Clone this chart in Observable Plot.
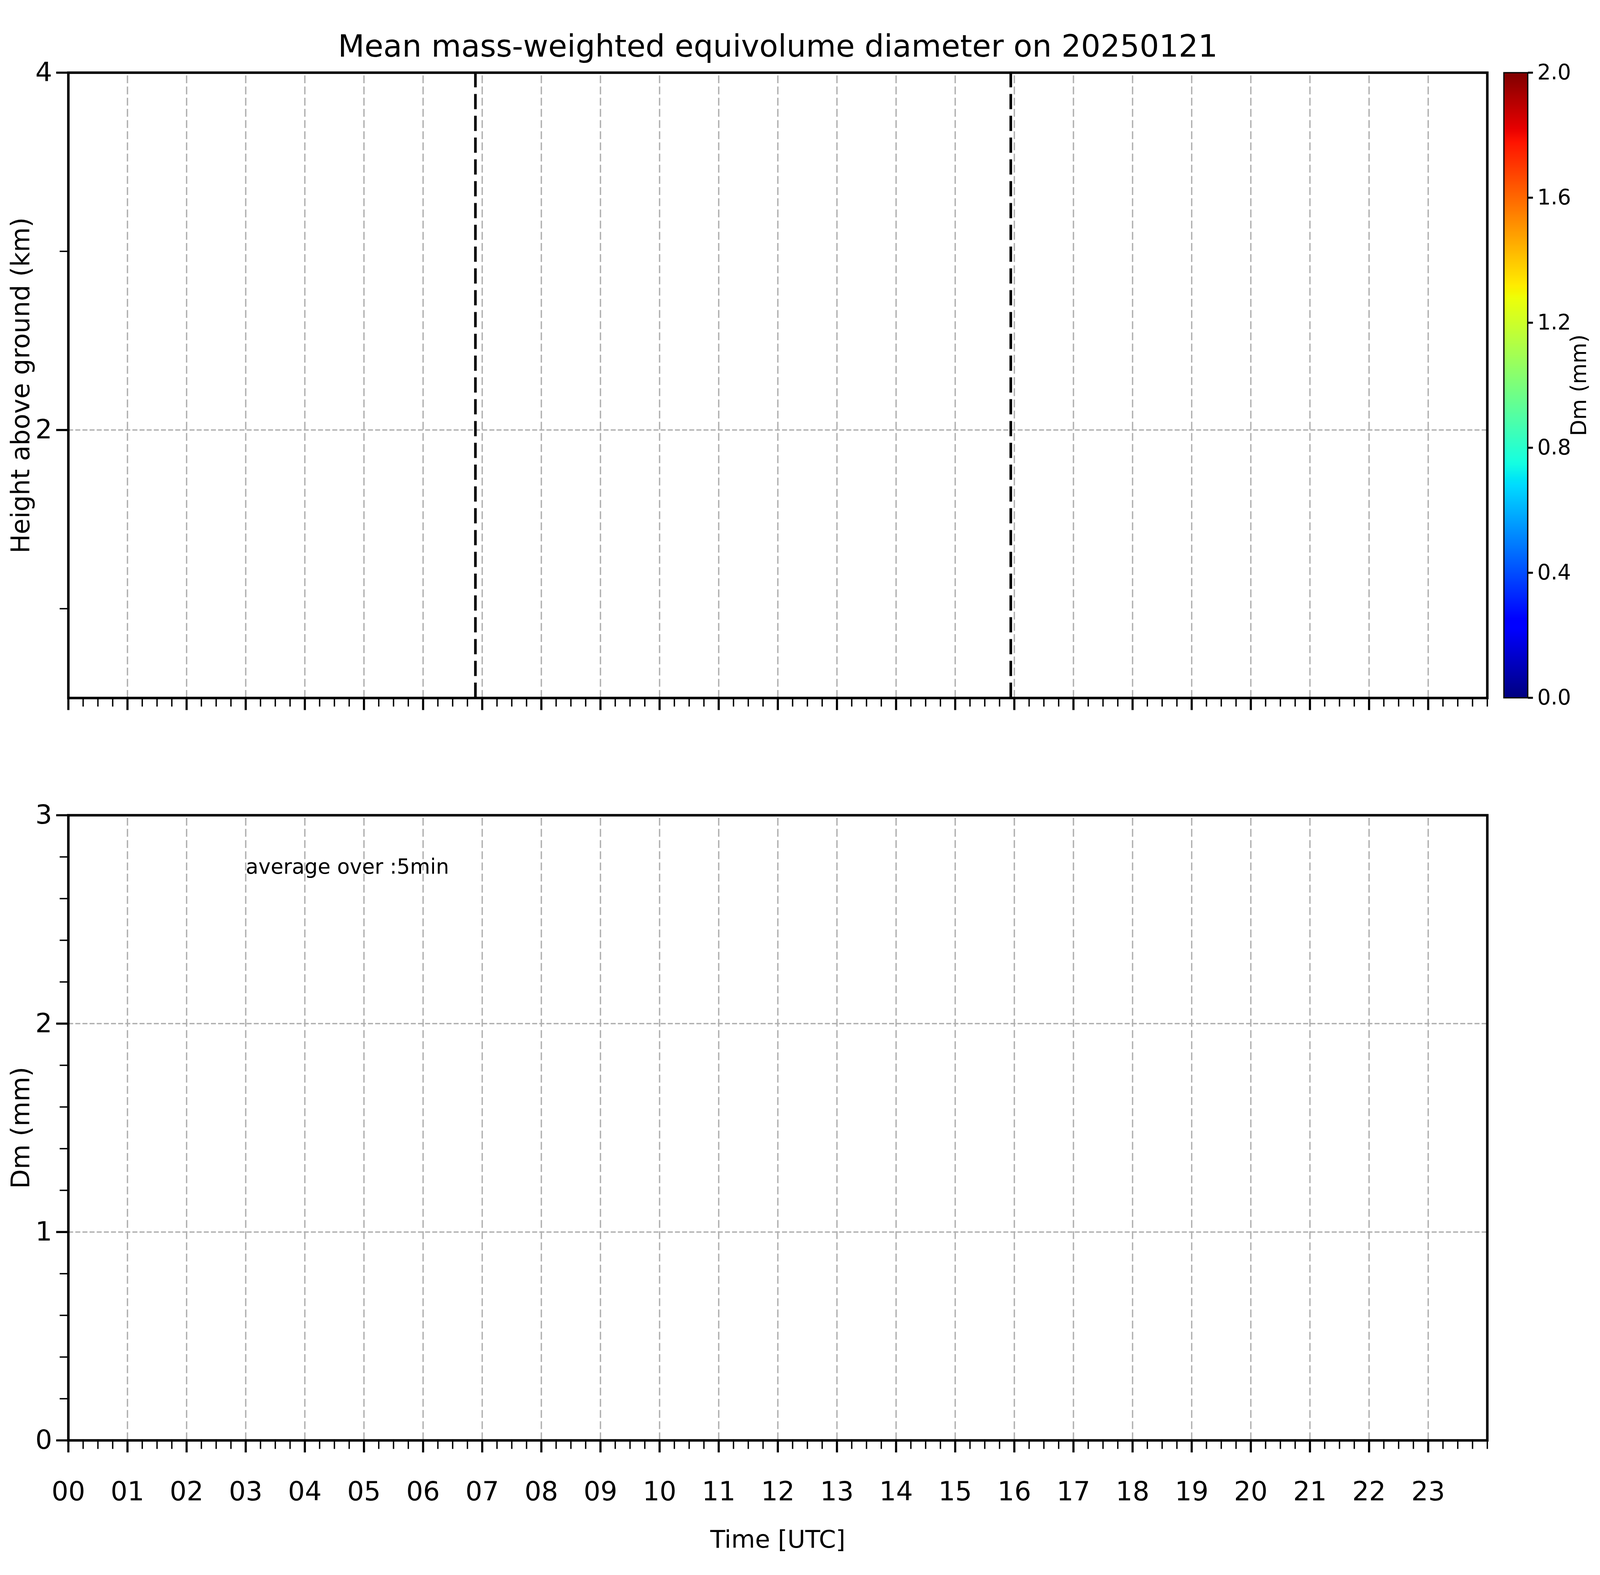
<!DOCTYPE html>
<html><head><meta charset="utf-8">
<script src="https://cdn.jsdelivr.net/npm/d3@7"></script>
<script src="https://cdn.jsdelivr.net/npm/@observablehq/plot@0.6"></script>
<style>
html,body{margin:0;padding:0;background:#fff;overflow:hidden;}
#fig{position:relative;overflow:hidden;background:#fff;font-family:"DejaVu Sans";}
#fig svg{position:absolute;overflow:visible;max-width:none !important;}
</style></head><body><div id="fig"></div>
<script>
// ---- text ----
const title = "Mean mass-weighted equivolume diameter on 20250121";
const topYLabel = "Height above ground (km)";
const bottomYLabel = "Dm (mm)";
const xLabel = "Time [UTC]";
const cbLabel = "Dm (mm)";
const annotation = ["average over :5min"];

// ---- axes / ticks ----
const hourLabels = ["00","01","02","03","04","05","06","07","08","09","10","11",
                    "12","13","14","15","16","17","18","19","20","21","22","23"];
const majorHours = [0,1,2,3,4,5,6,7,8,9,10,11,12,13,14,15,16,17,18,19,20,21,22,23];
const minorHours = d3.range(0, 24.001, 0.25).filter(h => h % 1 !== 0 || h === 24);
const timeDomain = [0, 24];
const heightDomain = [0.5, 4];
const heightTicks = [2, 4];
const heightMinor = [1, 3];
const dmDomain = [0, 3];
const dmTicks = [0, 1, 2, 3];
const dmMinor = [0.2,0.4,0.6,0.8,1.2,1.4,1.6,1.8,2.2,2.4,2.6,2.8];
const cbDomain = [0, 2];
const cbTicks = [0, 0.4, 0.8, 1.2, 1.6, 2.0];

// ---- data (empty day: no precipitation retrieved) ----
const sunTimes = [6.885, 15.94];      // dashed vertical markers, hours UTC
const dmMesh = [];                    // {t0, t1, h0, h1, dm} cells — none
const dmSeries = [];                  // {time, dm} — none
const annotationPos = {x: 3, y: 2.72};

// ---- jet colormap (matplotlib) ----
const jetR = [[0,0],[0.35,0],[0.66,1],[0.89,1],[1,0.5]];
const jetG = [[0,0],[0.125,0],[0.375,1],[0.64,1],[0.91,0],[1,0]];
const jetB = [[0,0.5],[0.11,1],[0.34,1],[0.65,0],[1,0]];
function chan(pts, t) {
  t = Math.max(0, Math.min(1, t));
  for (let i = 1; i < pts.length; i++) {
    if (t <= pts[i][0]) {
      const [x0, y0] = pts[i-1], [x1, y1] = pts[i];
      return y0 + (y1 - y0) * (t - x0) / (x1 - x0);
    }
  }
  return pts[pts.length-1][1];
}
function jet(t) {
  const r = Math.round(255*chan(jetR,t)), g = Math.round(255*chan(jetG,t)), b = Math.round(255*chan(jetB,t));
  return `rgb(${r},${g},${b})`;
}
const colorScale = {type: "linear", domain: cbDomain, interpolate: t => jet(t)};

// ---- layout: reference is 7442x4031; the window may be clamped, so positions scale
//      with the window (sx, sy) and font / stroke sizes with fs ----
const REF_W = 7442, REF_H = 4031;
const VW = Math.min(REF_W, document.documentElement.clientWidth || window.innerWidth || REF_W);
const VH = Math.min(REF_H, document.documentElement.clientHeight || window.innerHeight || REF_H);
const sx = VW / REF_W, sy = VH / REF_H;
const fs = Math.pow(sx, 0.75) * Math.pow(sy, 0.25);
const X = v => v * sx, Y = v => v * sy, S = v => v * fs;

const fig = document.getElementById("fig");
fig.style.width = VW + "px"; fig.style.height = VH + "px";

const baseStyle = {fontFamily: "DejaVu Sans", color: "black", background: "transparent", overflow: "visible"};
const gridV = {stroke: "#b0b0b0", strokeOpacity: 1, strokeWidth: S(5.4), strokeDasharray: `${Y(20)},${Y(8.6)}`};
const gridH = {stroke: "#b0b0b0", strokeOpacity: 1, strokeWidth: S(5.4), strokeDasharray: `${S(20)},${S(8.6)}`};

// reference geometry (pixels)
const FRAME_L = 317, FRAME_R = 6917, SVG_W = 6960;
const TOP_T = 185.5, TOP_B = 1786, SPLIT = 1950, BOT_T = 2086, BOT_B = 3686;
const CB_SVG_L = 6960, CB_L = 6993.5, CB_R = 7104.5, CB_T = 185.5, CB_B = 1785.5;

const yTickMaj = S(48), yTickMin = S(34), xTickMaj = S(49), xTickMin = S(35);
const yTickPad = Math.max(S(8), X(48 + 27) - yTickMaj);
const xTickPad = Math.max(S(10), Y(154) - 0.71 * S(106) - xTickMaj);

// ---- top panel ----
const topPlot = Plot.plot({
  width: X(SVG_W), height: Y(SPLIT),
  marginLeft: X(FRAME_L), marginRight: X(SVG_W - FRAME_R), marginTop: Y(TOP_T), marginBottom: Y(SPLIT - TOP_B),
  x: {type: "linear", domain: timeDomain},
  y: {type: "linear", domain: heightDomain},
  color: colorScale,
  style: baseStyle,
  marks: [
    Plot.rect(dmMesh, {x1: "t0", x2: "t1", y1: "h0", y2: "h1", fill: "dm"}),
    Plot.ruleX(majorHours, {x: d => d, y1: heightDomain[0], y2: heightDomain[1], ...gridV}),
    Plot.ruleY(heightTicks, {y: d => d, x1: timeDomain[0], x2: timeDomain[1], ...gridH}),
    Plot.ruleX(sunTimes, {x: d => d, y1: heightDomain[0], y2: heightDomain[1], stroke: "black", strokeWidth: S(10.5), strokeDasharray: `${Y(39)},${Y(16.8)}`}),
    Plot.axisX({ticks: minorHours, tickSize: xTickMin, strokeWidth: S(5.5), tickFormat: () => "", label: null}),
    Plot.axisX({ticks: majorHours, tickSize: xTickMaj, strokeWidth: S(8.5), tickFormat: () => "", label: null}),
    Plot.axisY({ticks: heightMinor, tickSize: yTickMin, strokeWidth: S(5.5), tickFormat: () => "", label: null}),
    Plot.axisY({ticks: heightTicks, tickSize: yTickMaj, tickPadding: yTickPad, strokeWidth: S(8.5), fontSize: S(106), tickFormat: d => String(d), label: null}),
    Plot.frame({stroke: "black", strokeWidth: S(10)}),
    Plot.text([title], {frameAnchor: "top", dy: Y(145 - TOP_T), text: d => d, textAnchor: "middle", lineAnchor: "bottom", fontSize: S(123), fill: "black"}),
    Plot.text([topYLabel], {frameAnchor: "left", dx: X(135 - FRAME_L), rotate: -90, text: d => d, textAnchor: "middle", lineAnchor: "bottom", fontSize: S(102), fill: "black"})
  ]
});
topPlot.style.left = "0px"; topPlot.style.top = "0px";
fig.appendChild(topPlot);

// ---- bottom panel ----
const botPlot = Plot.plot({
  width: X(SVG_W), height: Y(REF_H - SPLIT),
  marginLeft: X(FRAME_L), marginRight: X(SVG_W - FRAME_R), marginTop: Y(BOT_T - SPLIT), marginBottom: Y(REF_H - BOT_B),
  x: {type: "linear", domain: timeDomain},
  y: {type: "linear", domain: dmDomain},
  style: baseStyle,
  marks: [
    Plot.ruleX(majorHours, {x: d => d, y1: dmDomain[0], y2: dmDomain[1], ...gridV}),
    Plot.ruleY(dmTicks, {y: d => d, x1: timeDomain[0], x2: timeDomain[1], ...gridH}),
    Plot.line(dmSeries, {x: "time", y: "dm", stroke: "black"}),
    Plot.text(annotation, {x: annotationPos.x, y: annotationPos.y, text: d => d, textAnchor: "start", lineAnchor: "bottom", fontSize: S(83), fill: "black"}),
    Plot.axisX({ticks: minorHours, tickSize: xTickMin, strokeWidth: S(5.5), tickFormat: () => "", label: null}),
    Plot.axisX({ticks: majorHours, tickSize: xTickMaj, tickPadding: xTickPad, strokeWidth: S(8.5), fontSize: S(106), tickFormat: d => hourLabels[d], label: null}),
    Plot.axisY({ticks: dmMinor, tickSize: yTickMin, strokeWidth: S(5.5), tickFormat: () => "", label: null}),
    Plot.axisY({ticks: dmTicks, tickSize: yTickMaj, tickPadding: yTickPad, strokeWidth: S(8.5), fontSize: S(106), tickFormat: d => String(d), label: null}),
    Plot.frame({stroke: "black", strokeWidth: S(10)}),
    Plot.text([xLabel], {frameAnchor: "bottom", dy: Y(3961 - BOT_B), text: d => d, textAnchor: "middle", lineAnchor: "bottom", fontSize: S(98), fill: "black"}),
    Plot.text([bottomYLabel], {frameAnchor: "left", dx: X(135 - FRAME_L), rotate: -90, text: d => d, textAnchor: "middle", lineAnchor: "bottom", fontSize: S(102), fill: "black"})
  ]
});
botPlot.style.left = "0px"; botPlot.style.top = Y(SPLIT) + "px";
fig.appendChild(botPlot);

// ---- colorbar ----
const cbTick = S(20);
const cbPad = Math.max(S(6), X(7149 - CB_R) - cbTick);
const cbPlot = Plot.plot({
  width: X(REF_W - CB_SVG_L), height: Y(SPLIT),
  marginLeft: X(CB_L - CB_SVG_L), marginRight: X(REF_W - CB_R), marginTop: Y(CB_T), marginBottom: Y(SPLIT - CB_B),
  x: {domain: [0, 1], axis: null},
  y: {domain: cbDomain},
  color: colorScale,
  style: baseStyle,
  marks: [
    Plot.raster({fill: (x, y) => y, x1: 0, x2: 1, y1: cbDomain[0], y2: cbDomain[1], width: 1, height: 256}),
    Plot.frame({stroke: "black", strokeWidth: S(5)}),
    Plot.axisY({anchor: "right", ticks: cbTicks, tickSize: cbTick, tickPadding: cbPad, strokeWidth: S(8), fontSize: S(85), tickFormat: d => d.toFixed(1), label: null}),
    Plot.text([cbLabel], {frameAnchor: "right", dx: X(7376 - CB_R), rotate: -90, text: d => d, textAnchor: "middle", lineAnchor: "bottom", fontSize: S(85), fill: "black"})
  ]
});
cbPlot.style.left = X(CB_SVG_L) + "px"; cbPlot.style.top = "0px";
fig.appendChild(cbPlot);
</script>
</body></html>
